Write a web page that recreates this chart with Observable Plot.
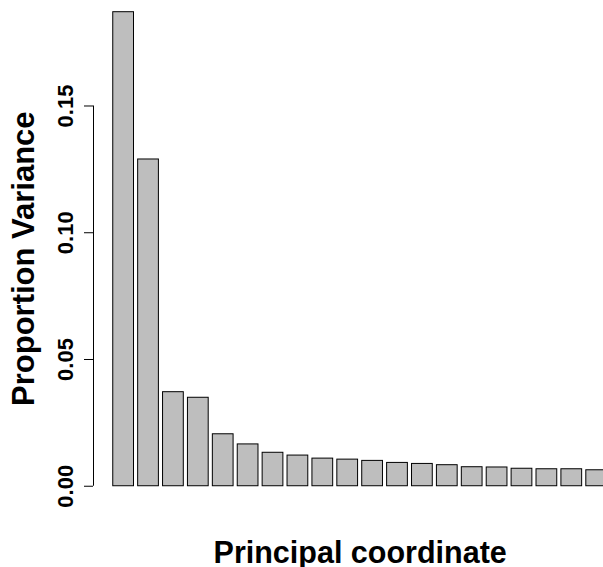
<!DOCTYPE html>
<html>
<head>
<meta charset="utf-8">
<script src="https://cdn.jsdelivr.net/npm/d3@7"></script>
<script src="https://cdn.jsdelivr.net/npm/@observablehq/plot@0.6"></script>
<style>
  html, body { margin: 0; padding: 0; background: #fff; }
  #chart svg { display: block; }
</style>
</head>
<body>
<div id="chart"></div>
<script>
// Proportion of variance explained by each principal coordinate
const axes = d3.range(1, 21);
const propVariance = [
  0.1870, 0.1289, 0.0371, 0.0349, 0.0205, 0.0165, 0.0132, 0.0121, 0.0109, 0.0105,
  0.0100, 0.0092, 0.0088, 0.0083, 0.0075, 0.0074, 0.0069, 0.0067, 0.0067, 0.0063
];
const yTicks = [0, 0.05, 0.10, 0.15];
const xTitle = "Principal coordinate";
const yTitle = "Proportion Variance";

// barplot-style layout: unit-width bars separated by a 0.2 gap
const space = 0.2;
const bars = axes.map((k, i) => ({
  k,
  value: propVariance[i],
  left: space + i * (1 + space),
  right: (i + 1) * (1 + space)
}));
const xPad = 0.04 * (bars[bars.length - 1].right - bars[0].left);
const xlim = [bars[0].left - xPad, bars[bars.length - 1].right + xPad];
const ylim = [-0.04 * d3.max(propVariance), d3.max(propVariance)];

const font = "'Liberation Sans', Arial, Helvetica, sans-serif";

const chart = Plot.plot({
  width: 603,
  height: 567,
  marginLeft: 93,
  marginRight: 0,
  marginTop: 0,
  marginBottom: 81,
  style: { fontFamily: font, background: "#fff", color: "#000" },
  x: { domain: xlim, range: [93, 626.3], axis: null },
  y: { domain: ylim, range: [504.7, 11.7], axis: null },
  marks: [
    Plot.rectY(bars, {
      x1: "left", x2: "right", y1: 0, y2: "value",
      fill: "#bebebe", stroke: "#000", strokeWidth: 1
    }),
    // y axis line spanning the tick range
    Plot.ruleX([xlim[0]], { y1: yTicks[0], y2: yTicks[yTicks.length - 1], stroke: "#000", strokeWidth: 1 }),
    Plot.axisY(yTicks, {
      anchor: "left", tickSize: 9, fill: "none", label: null, stroke: "#000", strokeWidth: 1
    }),
    Plot.text(yTicks, {
      y: d => d, frameAnchor: "left", dx: -21,
      text: d3.format(".2f"), rotate: -90,
      textAnchor: "middle", lineAnchor: "bottom",
      fontSize: 22, fontWeight: "bold", fill: "#000"
    }),
    Plot.text([yTitle], {
      y: (ylim[0] + ylim[1]) / 2, frameAnchor: "left", dx: -59.7,
      text: d => d, rotate: -90,
      textAnchor: "middle", lineAnchor: "bottom",
      fontSize: 31, fontWeight: "bold", fill: "#000"
    }),
    Plot.text([xTitle], {
      x: (xlim[0] + xlim[1]) / 2, frameAnchor: "bottom", dy: 76,
      text: d => d, textAnchor: "middle", lineAnchor: "bottom",
      fontSize: 30.5, fontWeight: "bold", fill: "#000"
    })
  ]
});

document.getElementById("chart").appendChild(chart);
</script>
</body>
</html>
